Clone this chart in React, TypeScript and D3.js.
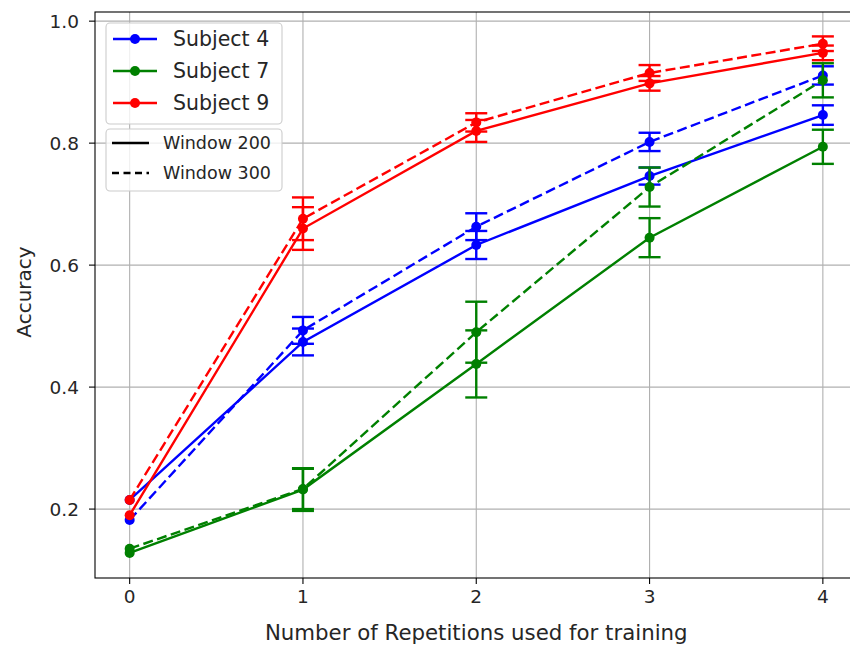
import React from "react";
import * as d3 from "d3";

// repetitions used for training
const reps = [0, 1, 2, 3, 4];

// mean accuracy, window 200 (solid) and window 300 (dashed)
const s4w200 = [0.215, 0.474, 0.633, 0.746, 0.846];
const s4w300 = [0.182, 0.493, 0.663, 0.802, 0.911];
const s7w200 = [0.128, 0.232, 0.438, 0.645, 0.794];
const s7w300 = [0.135, 0.233, 0.49, 0.728, 0.903];
const s9w200 = [0.19, 0.66, 0.82, 0.898, 0.948];
const s9w300 = [0.215, 0.676, 0.834, 0.915, 0.963];

// error bar half-lengths
const s4w200err = [0, 0.022, 0.023, 0.014, 0.016];
const s4w300err = [0, 0.022, 0.022, 0.015, 0.015];
const s7w200err = [0, 0.035, 0.055, 0.032, 0.028];
const s7w300err = [0, 0.033, 0.05, 0.032, 0.028];
const s9w200err = [0, 0.035, 0.018, 0.012, 0.012];
const s9w300err = [0, 0.035, 0.015, 0.013, 0.012];

const yTicks = [0.2, 0.4, 0.6, 0.8, 1.0];
const subjects = ["Subject 4", "Subject 7", "Subject 9"];
const windows = ["Window 200", "Window 300"];
const colors = ["#0000ff", "#008000", "#ff0000"];

const series = [
  { subj: 0, win: 0, vals: s4w200, err: s4w200err },
  { subj: 0, win: 1, vals: s4w300, err: s4w300err },
  { subj: 1, win: 0, vals: s7w200, err: s7w200err },
  { subj: 1, win: 1, vals: s7w300, err: s7w300err },
  { subj: 2, win: 0, vals: s9w200, err: s9w200err },
  { subj: 2, win: 1, vals: s9w300, err: s9w300err },
];

const W = 850;
const H = 646;
const margin = { left: 95, top: 12, bottom: 68 };
const font = "'DejaVu Sans', sans-serif";
const dash = "10,4.5";
const lw = 2.4;

export default function App() {
  const x = d3.scaleLinear().domain([-0.2, 4.2]).range([margin.left, 95 + 4.4 * 173.3]);
  const y = d3.scaleLinear().domain([0.087, 1.015]).range([H - margin.bottom, margin.top]);
  const line = d3
    .line<number>()
    .x((_, i) => x(reps[i]))
    .y((d) => y(d));

  const x0 = margin.left;
  const x1 = x(4.2);
  const yb = y(0.087);
  const yt = y(1.015);

  return (
    <svg
      width={W}
      height={H}
      style={{ position: "absolute", left: 0, top: 0, background: "#fff" }}
      fontFamily={font}
    >
      {/* grid */}
      {reps.map((r) => (
        <line key={"gx" + r} x1={x(r)} x2={x(r)} y1={yt} y2={yb} stroke="#b0b0b0" strokeWidth={1.1} />
      ))}
      {yTicks.map((t) => (
        <line key={"gy" + t} x1={x0} x2={x1} y1={y(t)} y2={y(t)} stroke="#b0b0b0" strokeWidth={1.1} />
      ))}

      {/* series */}
      {series.map((s, k) => {
        const c = colors[s.subj];
        return (
          <g key={"s" + k}>
            <path
              d={line(s.vals) || ""}
              fill="none"
              stroke={c}
              strokeWidth={lw}
              strokeDasharray={s.win === 1 ? dash : undefined}
            />
            {s.vals.map((v, i) =>
              s.err[i] > 0 ? (
                <g key={"e" + i} stroke={c} strokeWidth={lw}>
                  <line x1={x(reps[i])} x2={x(reps[i])} y1={y(v - s.err[i])} y2={y(v + s.err[i])} />
                  <line x1={x(reps[i]) - 11} x2={x(reps[i]) + 11} y1={y(v - s.err[i])} y2={y(v - s.err[i])} />
                  <line x1={x(reps[i]) - 11} x2={x(reps[i]) + 11} y1={y(v + s.err[i])} y2={y(v + s.err[i])} />
                </g>
              ) : null
            )}
            {s.vals.map((v, i) => (
              <circle key={"m" + i} cx={x(reps[i])} cy={y(v)} r={5} fill={c} />
            ))}
          </g>
        );
      })}

      {/* frame */}
      <rect x={x0} y={yt} width={x1 - x0} height={yb - yt} fill="none" stroke="#000" strokeWidth={1.1} />

      {/* x axis */}
      {reps.map((r) => (
        <g key={"tx" + r}>
          <line x1={x(r)} x2={x(r)} y1={yb} y2={yb + 6} stroke="#000" strokeWidth={1.1} />
          <text x={x(r)} y={yb + 25} textAnchor="middle" fontSize={18.5} fill="#262626">
            {r}
          </text>
        </g>
      ))}
      <text x={(x(0) + x(4)) / 2} y={640} textAnchor="middle" fontSize={21.3} fill="#262626">
        Number of Repetitions used for training
      </text>

      {/* y axis */}
      {yTicks.map((t) => (
        <g key={"ty" + t}>
          <line x1={x0 - 6} x2={x0} y1={y(t)} y2={y(t)} stroke="#000" strokeWidth={1.1} />
          <text x={x0 - 16} y={y(t)} dy="0.35em" textAnchor="end" fontSize={18.5} fill="#262626">
            {t.toFixed(1)}
          </text>
        </g>
      ))}
      <text
        transform={`translate(31, ${(yt + yb) / 2 - 3}) rotate(-90)`}
        textAnchor="middle"
        fontSize={20}
        fill="#262626"
      >
        Accuracy
      </text>

      {/* legend: subjects */}
      <rect x={106} y={23} width={176} height={101} rx={4} fill="#fff" fillOpacity={0.8} stroke="#cccccc" strokeWidth={1.1} />
      {subjects.map((name, i) => (
        <g key={"ls" + i}>
          <line x1={113} x2={157} y1={39 + i * 32} y2={39 + i * 32} stroke={colors[i]} strokeWidth={lw} />
          <circle cx={135} cy={39 + i * 32} r={5} fill={colors[i]} />
          <text x={173} y={39 + i * 32} dy="0.35em" fontSize={20.5} fill="#262626">
            {name}
          </text>
        </g>
      ))}

      {/* legend: windows */}
      <rect x={106} y={129} width={176} height={62} rx={4} fill="#fff" fillOpacity={0.8} stroke="#cccccc" strokeWidth={1.1} />
      {windows.map((name, i) => (
        <g key={"lw" + i}>
          <line
            x1={112}
            x2={149}
            y1={143 + i * 30}
            y2={143 + i * 30}
            stroke="#000"
            strokeWidth={lw}
            strokeDasharray={i === 1 ? "7,4.5" : undefined}
          />
          <text x={163} y={143 + i * 30} dy="0.35em" fontSize={17.5} fill="#262626">
            {name}
          </text>
        </g>
      ))}
    </svg>
  );
}
